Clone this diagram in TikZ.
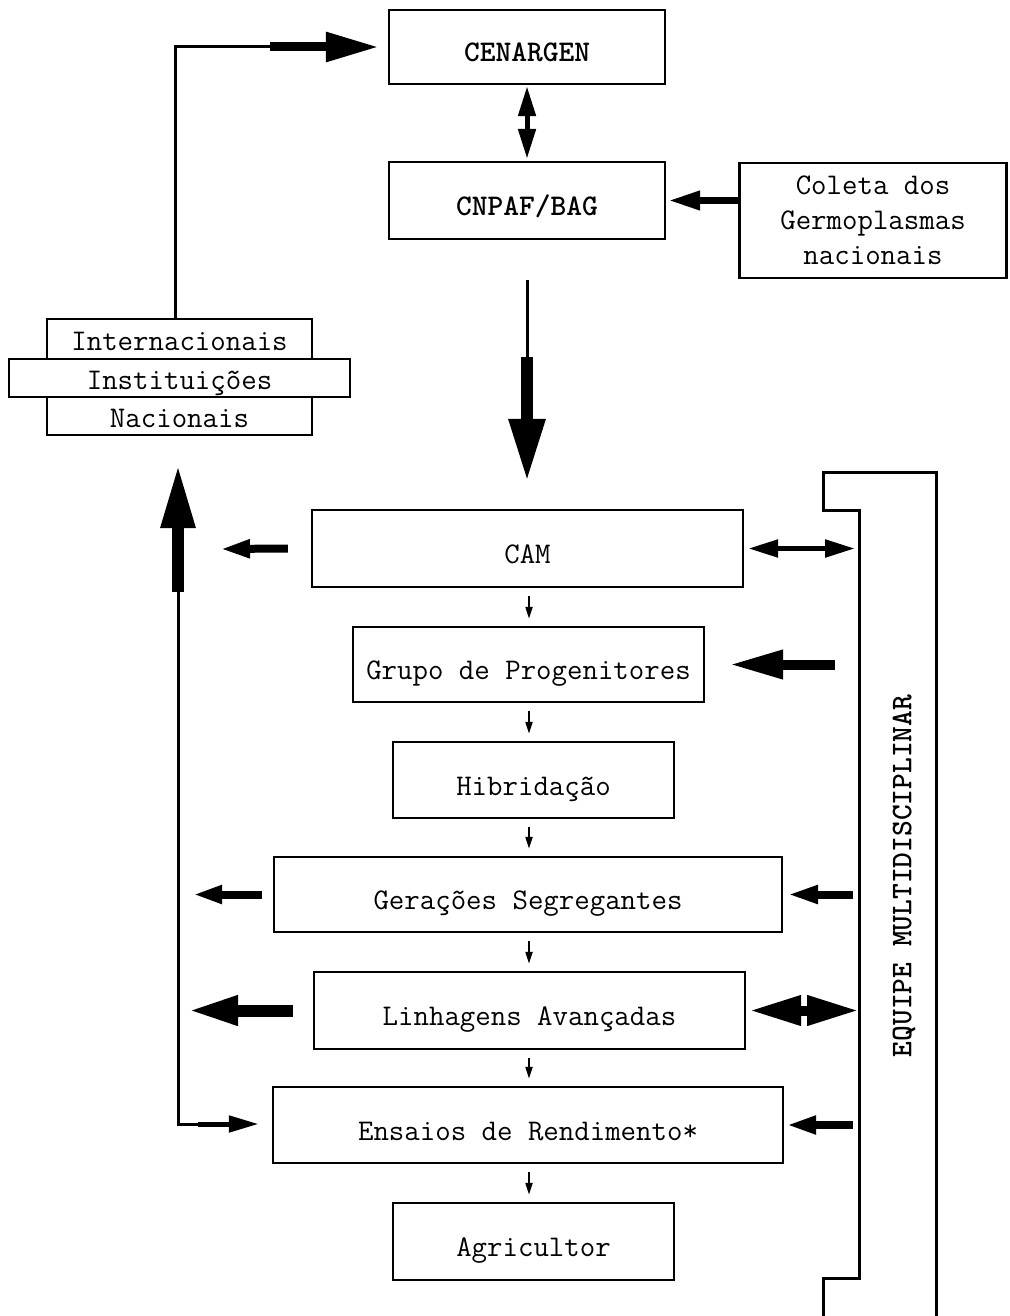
\documentclass[tikz,border=0pt]{standalone}
\usetikzlibrary{arrows.meta}
\begin{document}
\begin{tikzpicture}[x=0.5pt,y=-0.5pt,
  frame/.style={draw, line width=1.2pt, inner sep=0pt, font=\ttfamily\fontsize{15}{17.5}\selectfont},
  box/.style={frame, text height=15pt, text depth=0pt},
  ibox/.style={frame, text height=11pt, text depth=0pt},
  boldtxt/.style={font=\ttfamily\bfseries\fontsize{15}{17.5}\selectfont},
  wire/.style={line width=1.5pt},
  smallarr/.style={line width=1pt, -{Triangle[length=6pt,width=3.5pt]}}
]
\useasboundingbox (0,0) rectangle (1010,1316);

% boxes
\node[box, boldtxt, minimum width=138pt, minimum height=37pt] (cen) at (527,47) {CENARGEN};
\node[box, boldtxt, minimum width=138pt, minimum height=38.5pt] (cnp) at (527,200.5) {CNPAF/BAG};
\node[frame, align=center, minimum width=133.5pt, minimum height=57.5pt] (col) at (873,220.5) {Coleta dos\\Germoplasmas\\nacionais};
\node[ibox, minimum width=170.5pt, minimum height=19pt] (ins) at (179.5,378) {Instituições};
\node[ibox, minimum width=132.5pt, minimum height=20pt] (int) at (179.5,339) {Internacionais};
\node[ibox, minimum width=132.5pt, minimum height=19pt] (nac) at (179.5,416) {Nacionais};
\node[box, minimum width=215.5pt, minimum height=38.5pt] (cam) at (527.5,548.5) {CAM};
\node[box, minimum width=175.5pt, minimum height=37.5pt] (gru) at (528.5,664.5) {Grupo de Progenitores};
\node[box, minimum width=140.5pt, minimum height=38pt] (hib) at (533.5,780) {Hibridação};
\node[box, minimum width=254pt, minimum height=37.5pt] (ger) at (528,894.5) {Gerações Segregantes};
\node[box, minimum width=215.5pt, minimum height=38.5pt] (lin) at (529.5,1010.5) {Linhagens Avançadas};
\node[box, minimum width=255pt, minimum height=38pt] (ens) at (528,1125) {Ensaios de Rendimento*};
\node[box, minimum width=140.5pt, minimum height=38.5pt] (agr) at (533.5,1241.5) {Agricultor};

% bracket (equipe multidisciplinar)
\coordinate (brk) at (859,510);
\draw[line width=1.5pt] (823,1320) -- (823,1278) -- (859,1278) -- (brk) -- (823,510) -- (823,472) -- (936,472) -- (936,1320);
\node[boldtxt, rotate=90] (eq) at (904,876) {EQUIPE MULTIDISCIPLINAR};

% top loop to CENARGEN
\coordinate (tl) at (175,47);
\coordinate (tm) at (270,47);
\draw[wire] (int.north -| tl) -- (tl) -- (tm);
\draw[line width=4.5pt, -{Triangle[length=26.5pt,width=14pt]}] (tm) -- ([xshift=-4.5pt]cen.west);

% CENARGEN <-> CNPAF
\draw[line width=2.5pt, {Triangle[length=15pt,width=8.5pt]}-{Triangle[length=15pt,width=8.5pt]}]
  ([yshift=-0.5pt]cen.south) -- ([yshift=1pt]cnp.north);

% Coleta -> CNPAF
\draw[line width=3.5pt, -{Triangle[length=16pt,width=9pt]}] (col.west |- cnp.east) -- ([xshift=1pt]cnp.east);

% CNPAF -> CAM big arrow
\coordinate (d1) at (527,280);
\coordinate (d2) at (527,357);
\draw[wire] (d1) -- (d2);
\draw[line width=6pt, -{Triangle[length=31.5pt,width=17pt]}] (d2) -- ([yshift=13.5pt]d2 |- cam.north);

% CAM arrows
\coordinate (cl) at (220,549);
\draw[line width=4pt, -{Triangle[length=15pt,width=8.5pt]}] ([xshift=-11.5pt]cam.west) -- (cl);
\draw[line width=2.6pt, {Triangle[length=15pt,width=8.5pt]}-{Triangle[length=15pt,width=8.5pt]}]
  ([xshift=2pt]cam.east) -- ([xshift=-2pt]cam.east -| brk);

% Grupo arrow
\draw[line width=5pt, -{Triangle[length=27pt,width=13.5pt]}] ([xshift=-12pt]gru.east -| brk) -- ([xshift=12pt]gru.east);

% Geracoes arrows
\coordinate (gl) at (193,894.5);
\draw[line width=4pt, -{Triangle[length=14.5pt,width=8.5pt]}] ([xshift=-5.5pt]ger.west) -- (gl);
\draw[line width=4pt, -{Triangle[length=15.5pt,width=8.5pt]}] ([xshift=-3pt]ger.east -| brk) -- ([xshift=2pt]ger.east);

% Linhagens arrows
\coordinate (ll) at (187,1010.5);
\draw[line width=6pt, -{Triangle[length=25.5pt,width=13.5pt]}] ([xshift=-10pt]lin.west) -- (ll);
\draw[line width=5pt, {Triangle[length=26pt,width=14pt]}-{Triangle[length=26pt,width=14pt]}]
  ([xshift=1.5pt]lin.east) -- (lin.east -| brk);

% Ensaios arrow from team
\draw[line width=4pt, -{Triangle[length=15pt,width=8.5pt]}] ([xshift=-3pt]ens.east -| brk) -- ([xshift=1pt]ens.east);

% left loop: Ensaios <- and -> Instituicoes
\coordinate (lb) at (178,1124);
\coordinate (lu) at (178,592);
\draw[wire] (lu) -- (lb) -- ([xshift=10pt]lb);
\draw[line width=2.5pt, -{Triangle[length=15pt,width=8pt]}] ([xshift=10pt]lb) -- ([xshift=-6.5pt]lb -| ens.west);
\draw[line width=6pt, -{Triangle[length=32pt,width=16pt]}] (lu) -- ([yshift=-14pt]lu |- nac.south);

% small vertical arrows
\coordinate (ax) at (529,0);
\draw[smallarr] ([yshift=-4pt]ax |- cam.south) -- ([yshift=3.5pt]ax |- gru.north);
\draw[smallarr] ([yshift=-4pt]ax |- gru.south) -- ([yshift=3.5pt]ax |- hib.north);
\draw[smallarr] ([yshift=-4pt]ax |- hib.south) -- ([yshift=3.5pt]ax |- ger.north);
\draw[smallarr] ([yshift=-4pt]ax |- ger.south) -- ([yshift=3.5pt]ax |- lin.north);
\draw[smallarr] ([yshift=-4pt]ax |- lin.south) -- ([yshift=3.5pt]ax |- ens.north);
\draw[smallarr] ([yshift=-4pt]ax |- ens.south) -- ([yshift=3.5pt]ax |- agr.north);
\end{tikzpicture}
\end{document}
